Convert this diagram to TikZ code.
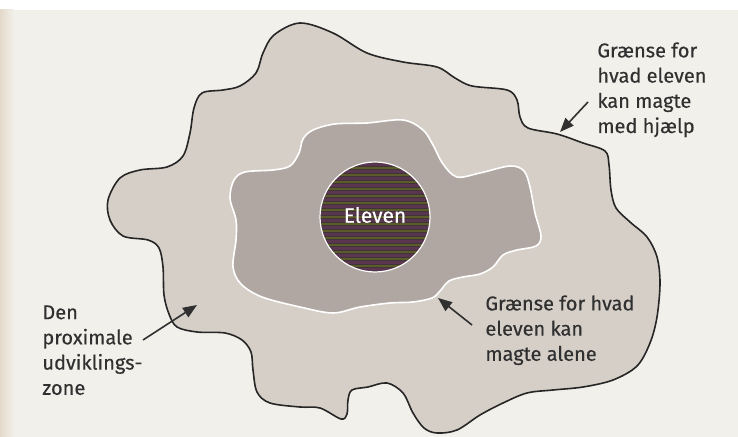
\documentclass[tikz,border=0pt]{standalone}
\usepackage{fontspec}
\setmainfont{Fira Sans}
\newfontfamily\etiket{Fira Sans}[FakeBold=0.3]
\usetikzlibrary{arrows.meta}
\definecolor{papir}{HTML}{F2F0EB}
\definecolor{kant}{HTML}{E4D9CA}
\definecolor{ydre}{HTML}{D6CFC8}
\definecolor{indre}{HTML}{B0A7A2}
\definecolor{kerne}{HTML}{3F3436}
\definecolor{oliven}{HTML}{5D5A2C}
\definecolor{blomme}{HTML}{5A3550}
\definecolor{blaek}{HTML}{303030}
\tikzset{
  >={Triangle[length=7pt,width=5.5pt]},
  % zoner
  ydrezone/.style={fill=ydre,draw=black!85,line width=0.8pt,line join=round},
  indrezone/.style={fill=indre,draw=white,line width=0.8pt,line join=round},
  elev/.style={circle,fill=kerne,draw=white,line width=0.6pt,minimum size=55pt,
               inner sep=0pt},
  % tekst og pile
  pil/.style={->,draw=blaek,line width=0.8pt},
  tekst/.style={font=\etiket\fontsize{10}{12.6}\selectfont,text=blaek,align=left,
                anchor=north west,inner sep=0pt},
}

\begin{document}
\begin{tikzpicture}[x=0.5pt,y=-0.5pt]
\useasboundingbox (0,0) rectangle (738,437);
  % papir
  \fill[white] (0,0) rectangle (738,437);
  \fill[papir] (0,10) rectangle (738,437);
  \shade[left color=kant,right color=papir] (0,10) rectangle (14,437);
  % ydre zone
  \draw[ydrezone] plot[smooth cycle,tension=0.55] coordinates {
    (300,23) (333,33) (367,53) (403,62) (437,67) (455,78) (472,86) (507,90)
    (517,100) (520,117) (528,128) (557,134) (583,143) (605,151) (609,165)
    (611,190) (616,208) (630,222) (647,237) (657,257) (660,283) (657,317)
    (650,343) (637,366) (613,380) (583,387) (553,390) (527,393) (503,403)
    (480,415) (457,430) (437,433) (424,428) (413,413) (403,393) (387,383)
    (368,387) (352,390) (348,400) (347,414) (341,419) (320,408) (300,407)
    (270,403) (257,392) (253,370) (251,352) (242,340) (225,333) (197,332)
    (177,327) (169,314) (164,295) (163,267) (159,248) (148,240) (123,236)
    (110,220) (108,200) (120,178) (140,170) (167,167) (183,156) (190,133)
    (194,108) (202,93) (223,90) (240,86) (256,73) (263,53) (274,35)};
  % indre zone
  \draw[indrezone] plot[smooth cycle,tension=0.55] coordinates {
    (313,130) (335,124) (367,123) (403,120) (423,130) (433,145) (443,164)
    (457,177) (480,173) (510,166) (524,171) (530,187) (535,213) (541,236)
    (536,246) (517,250) (503,255) (493,267) (480,274) (463,277) (449,281)
    (440,291) (432,298) (413,302) (390,303) (360,307) (333,313) (300,307)
    (262,297) (241,284) (233,267) (236,240) (236,220) (230,198) (234,180)
    (245,172) (273,170) (290,166) (299,153) (303,139)};
  % kernen
  \node[elev,path picture={
      \foreach \k in {-8,...,8} {
        \draw[oliven,line width=1.3pt]
          ([yshift=\k*3.5pt]path picture bounding box.west) -- ++(60pt,0);
        \draw[blomme,line width=1.3pt]
          ([yshift=\k*3.5pt+1.75pt]path picture bounding box.west) -- ++(60pt,0);
      }
    }] (kerne) at (375,217) {};
  \node[text=white,font=\etiket\fontsize{10.5}{12}\selectfont] (elevtekst) at (375,215) {Eleven};
  % etiketter
  \node[tekst] (medhjaelp) at (597,42) {Grænse for\\hvad eleven\\kan magte\\med hjælp};
  \node[tekst] (alene) at (485,295) {Grænse for hvad\\eleven kan\\magte alene};
  \node[tekst] (zone) at (42,305) {Den\\proximale\\udviklings-\\zone};
  % pile
  \coordinate (p1) at (588,102);
  \coordinate (m1) at (560,132);
  \coordinate (p2) at (472,325);
  \coordinate (m2) at (438,298);
  \coordinate (p3) at (143,340);
  \coordinate (m3) at (197,305);
  \draw[pil] (p1) -- (m1);
  \draw[pil] (p2) -- (m2);
  \draw[pil] (p3) -- (m3);
\end{tikzpicture}
\end{document}
